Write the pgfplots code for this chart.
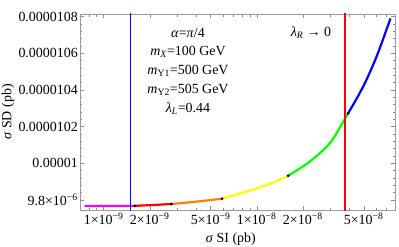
\documentclass[border=0pt]{standalone}
\usepackage{fontspec}
\setmainfont{Liberation Serif}
\usepackage{pgfplots}
\pgfplotsset{compat=1.18}
\definecolor{mmMagenta}{rgb}{1,0,1}
\definecolor{mmRed}{rgb}{1,0,0}
\definecolor{mmOrange}{rgb}{1,0.5,0}
\definecolor{mmYellow}{rgb}{1,1,0}
\definecolor{mmGreen}{rgb}{0,1,0}
\definecolor{mmBlue}{rgb}{0,0,1}
\begin{document}
\fontsize{14}{16.5}\selectfont
\begin{tikzpicture}
\useasboundingbox (-80bp,-37bp) rectangle (319bp,210bp);
\begin{axis}[
  at={(0,0)}, anchor=south west,
  scale only axis, width=315bp, height=196bp,
  xmode=log, xmin=7e-10, xmax=8e-8,
  ymin=9.7455e-6, ymax=1.0814e-5,
  xtick={1e-9,2e-9,5e-9,1e-8,2e-8,5e-8},
  xticklabels={1×10\textsuperscript{−9},2×10\textsuperscript{−9},5×10\textsuperscript{−9},1×10\textsuperscript{−8},2×10\textsuperscript{−8},5×10\textsuperscript{−8}},
  minor xtick={8e-10,9e-10,3e-9,4e-9,6e-9,7e-9,8e-9,9e-9,3e-8,4e-8,6e-8,7e-8,8e-8},
  ytick={9.8e-6,1e-5,1.02e-5,1.04e-5,1.06e-5,1.08e-5},
  yticklabels={9.8×10\textsuperscript{−6},0.00001,0.0000102,0.0000104,0.0000106,0.0000108},
  minor y tick num=4,
  tick align=inside,
  major tick length=4bp, minor tick length=2.5bp,
  axis line style={draw=black!40},
  tick style={draw=black!45, line width=0.4pt},
  xticklabel style={inner sep=1.5bp, yshift=-1bp},
  yticklabel style={inner sep=2bp},
  scaled y ticks=false,
  xlabel={\textit{σ} SI (pb)},
  ylabel={\textit{σ} SD (pb)},
  xlabel style={at={(axis description cs:0.479,0)}, anchor=base, yshift=-32bp},
  ylabel style={at={(axis description cs:-0.218,0.5)}, anchor=base},
  clip=true,
]
% curve segments
\addplot[mmMagenta, line width=2.2pt] coordinates {(7.51e-10,9.767e-6) (1.596e-9,9.768e-6)};
\addplot[mmRed, line width=2.2pt, smooth] coordinates {(1.596e-9,9.768e-6) (2.0e-9,9.772e-6) (2.77e-9,9.778e-6)};
\addplot[mmOrange, line width=2.2pt, smooth] coordinates {(2.77e-9,9.778e-6) (4.24e-9,9.793e-6) (5.93e-9,9.807e-6)};
\addplot[mmYellow, line width=2.2pt, smooth] coordinates {(5.93e-9,9.807e-6) (9.0e-9,9.851e-6) (1.25e-8,9.892e-6) (1.602e-8,9.932e-6)};
\addplot[mmGreen, line width=2.2pt, smooth] coordinates {(1.602e-8,9.932e-6) (2.22e-8,1.0009e-5) (3.0e-8,1.0109e-5) (3.66e-8,1.0224e-5) (3.95e-8,1.0272e-5)};
\addplot[mmBlue, line width=2.2pt, smooth] coordinates {(3.95e-8,1.0272e-5) (4.95e-8,1.0417e-5) (6.06e-8,1.0581e-5) (7.48e-8,1.0790e-5)};
% black junction points
\addplot[only marks, mark=*, mark size=1.2pt, black] coordinates {(1.596e-9,9.768e-6) (2.77e-9,9.778e-6) (5.93e-9,9.807e-6) (1.602e-8,9.932e-6) (3.95e-8,1.0272e-5)};
% vertical limits
\addplot[mmBlue, line width=1.7pt] coordinates {(1.5e-9,9.6e-6) (1.5e-9,1.1e-5)};
\addplot[mmRed, line width=1.7pt] coordinates {(3.76e-8,9.6e-6) (3.76e-8,1.1e-5)};
\end{axis}
\node at (108bp,177bp) {\textit{α}=\textit{π}/4};
\node at (108bp,158bp) {\textit{m}\textsubscript{\textit{X}}=100 GeV};
\node at (108bp,139bp) {\textit{m}\textsubscript{Y1}=500 GeV};
\node at (108bp,120bp) {\textit{m}\textsubscript{Y2}=505 GeV};
\node at (108bp,101bp) {\textit{λ}\textsubscript{\textit{L}}=0.44};
\node at (231bp,177bp) {\textit{λ}\textsubscript{\textit{R}} → 0};
\end{tikzpicture}
\end{document}
